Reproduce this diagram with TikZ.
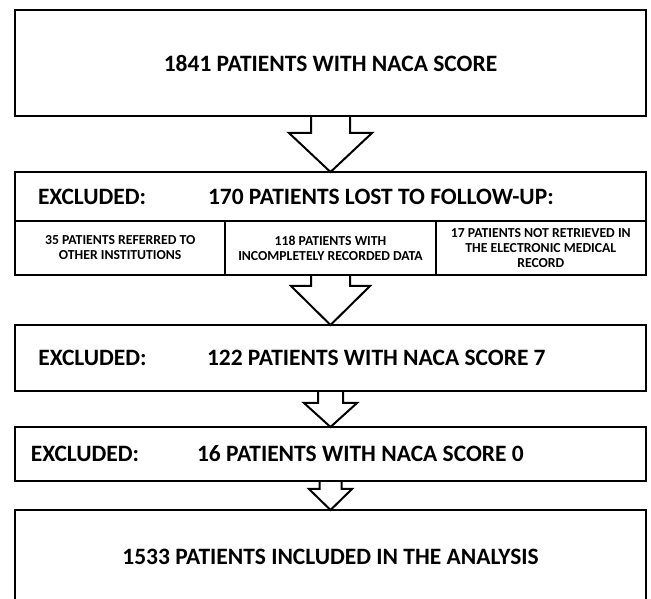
\documentclass[tikz,border=0pt]{standalone}
\usepackage{fontspec}
\setmainfont{Carlito}
\usetikzlibrary{calc}

\begin{document}
\begin{tikzpicture}
	[x=0.75pt,y=-0.75pt,line width=1.5pt,
	box/.style={rectangle,draw=black,inner sep=0pt,outer sep=0pt,minimum width=473.25pt,font=\fontsize{17.6}{21}\selectfont\bfseries},
	headtext/.style={inner sep=0pt,anchor=west,font=\fontsize{17.6}{21}\selectfont\bfseries},
	subbox/.style={rectangle,draw=black,inner sep=0pt,outer sep=0pt,align=center,minimum width=157.75pt,minimum height=40.5pt,font=\fontsize{10.3}{11.25}\selectfont\bfseries},
	blockarrow/.style={draw=black,line join=miter}]
	\useasboundingbox (0,0) rectangle (651,599);
	\node[box,minimum height=79.5pt] (box1) at (330.5,63) {1841 PATIENTS WITH NACA SCORE};
	\node[box,minimum height=36.75pt] (box2) at (330.5,196.5) {};
	\node[headtext] (excl2) at ($(box2.west)+(22,0)$) {EXCLUDED:};
	\node[headtext] (lost) at ($(box2.west)+(192,0)$) {170 PATIENTS LOST TO FOLLOW-UP:};
	\node[subbox] (sub1) at (120.17,248) {35 PATIENTS REFERRED TO\\OTHER INSTITUTIONS};
	\node[subbox] (sub2) at (330.5,248) {118 PATIENTS WITH\\INCOMPLETELY RECORDED DATA};
	\node[subbox] (sub3) at (540.83,248) {17 PATIENTS NOT RETRIEVED IN\\THE ELECTRONIC MEDICAL\\RECORD};
	\node[box,minimum height=49.5pt] (box3) at (330.5,358) {};
	\node[headtext] (excl3) at ($(box3.west)+(22.5,0)$) {EXCLUDED:};
	\node[headtext] (naca7) at ($(box3.west)+(191,0)$) {122 PATIENTS WITH NACA SCORE 7};
	\node[box,minimum height=40.5pt] (box4) at (330.5,454) {};
	\node[headtext] (excl4) at ($(box4.west)+(15,0)$) {EXCLUDED:};
	\node[headtext] (naca0) at ($(box4.west)+(181,0)$) {16 PATIENTS WITH NACA SCORE 0};
	\node[box,minimum height=69.75pt] (box5) at (330.5,556.5) {1533 PATIENTS INCLUDED IN THE ANALYSIS};
	
	\foreach \from/\to/\sw/\hw/\hl in {box1/box2/19.5/41.5/39,sub2/box3/19.5/39.5/39,box3/box4/12.5/26.5/24,box4/box5/11/21.5/21}
	\draw[blockarrow] ($(\from.south)+(-\sw,0)$) -- ($(\to.north)+(-\sw,-\hl)$) -- ($(\to.north)+(-\hw,-\hl)$) -- (\to.north) -- ($(\to.north)+(\hw,-\hl)$) -- ($(\to.north)+(\sw,-\hl)$) -- ($(\from.south)+(\sw,0)$);
	\end{tikzpicture}
\end{document}
